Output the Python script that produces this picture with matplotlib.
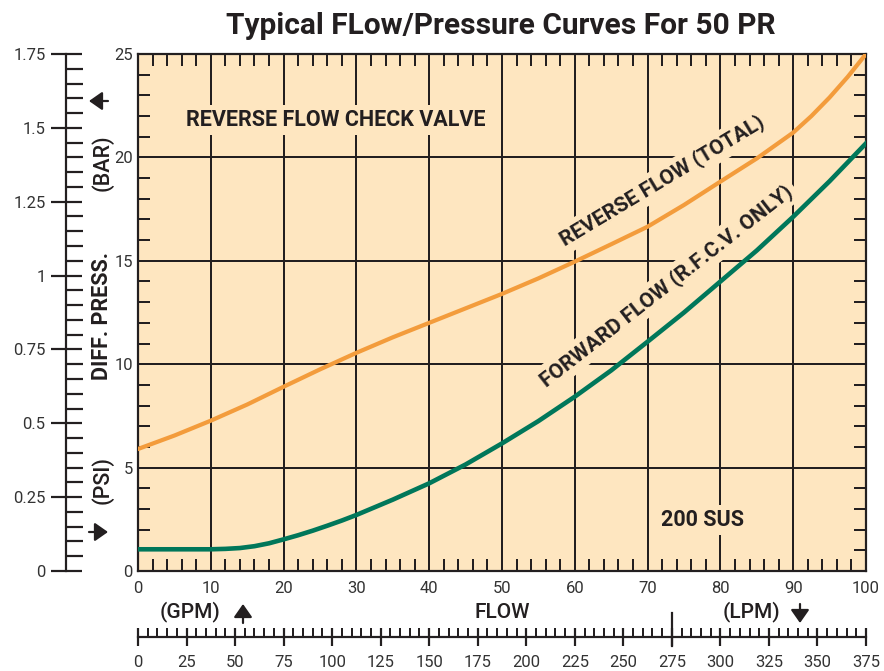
import matplotlib
matplotlib.use('Agg')
import matplotlib.pyplot as plt
from matplotlib.ticker import MultipleLocator, FixedLocator

plt.rcParams['font.family'] = ['Roboto', 'DejaVu Sans']

# ---------------- data ----------------
gpm_rev = [0, 5, 10, 15, 20, 25, 30, 35, 40, 45, 50, 55, 60, 65, 70, 75, 80, 85,
           90, 92.5, 95, 97.5, 100]
reverse_psi = [5.9, 6.55, 7.27, 8.05, 8.91, 9.75, 10.55, 11.3, 12.0, 12.7, 13.4,
               14.15, 14.96, 15.8, 16.65, 17.7, 18.83, 19.95, 21.2, 22.0, 22.9, 23.9, 25.0]
gpm_fwd = [0, 5, 10, 12, 14, 16, 18, 20, 22, 24, 26, 28, 30, 35, 40, 45, 50, 55,
           60, 65, 70, 75, 80, 85, 90, 95, 100]
forward_psi = [1.05, 1.05, 1.05, 1.07, 1.11, 1.2, 1.34, 1.53, 1.73, 1.95, 2.19, 2.44,
               2.71, 3.45, 4.24, 5.15, 6.17, 7.25, 8.43, 9.7, 11.09, 12.5, 14.0, 15.5,
               17.13, 18.85, 20.68]

gpm_ticks = [0, 10, 20, 30, 40, 50, 60, 70, 80, 90, 100]
psi_ticks = [0, 5, 10, 15, 20, 25]
bar_ticks = [0, 0.25, 0.5, 0.75, 1.0, 1.25, 1.5, 1.75]
bar_labels = ['0', '0.25', '0.5', '0.75', '1', '1.25', '1.5', '1.75']
lpm_ticks = [0, 25, 50, 75, 100, 125, 150, 175, 200, 225, 250, 275, 300, 325, 350, 375]
lpm_mark = 275

title = 'Typical FLow/Pressure Curves For 50 PR'

# ---------------- style ----------------
BG = '#FEE6C0'
INK = '#231F20'
ORANGE = '#F39C3C'
GREEN = '#00775A'

W, H = 884, 671
fig = plt.figure(figsize=(W / 100, H / 100), dpi=100)


def fx(px):
    return px / W


def fy(py):
    return 1 - py / H


PT = 72 / 100  # points per pixel

# ---------------- main axes ----------------
ax = fig.add_axes([fx(138), fy(571), fx(866) - fx(138), fy(54) - fy(571)])
ax.set_facecolor(BG)
ax.set_xlim(0, 100)
ax.set_ylim(0, 25)
ax.set_axisbelow(True)
ax.xaxis.set_major_locator(FixedLocator(gpm_ticks))
ax.yaxis.set_major_locator(FixedLocator(psi_ticks))
ax.xaxis.set_minor_locator(MultipleLocator(2))
ax.yaxis.set_minor_locator(MultipleLocator(1))
ax.grid(which='major', color=INK, lw=2 * PT)
ax.tick_params(which='minor', direction='in', length=12 * PT, width=2 * PT,
               color=INK, top=True, right=True, bottom=True, left=True)
ax.tick_params(which='major', length=0, labelsize=12, labelcolor='#333333')
ax.tick_params(axis='x', which='major', pad=10 * PT)
ax.tick_params(axis='y', which='major', pad=5 * PT)
for s in ax.spines.values():
    s.set_color(INK)
    s.set_linewidth(2.2 * PT)

ax.plot(gpm_rev, reverse_psi, color=ORANGE, lw=4.2 * PT, zorder=3,
        solid_joinstyle='round')
ax.plot(gpm_fwd, forward_psi, color=GREEN, lw=4.6 * PT, zorder=3,
        solid_joinstyle='round')

box = dict(boxstyle='square,pad=0.2', fc=BG, ec='none')
ax.text(27.2, 21.8, 'REVERSE FLOW CHECK VALVE', ha='center', va='center',
        fontsize=15.5, fontweight='bold', color=INK, bbox=box, zorder=4)
ax.text(77.6, 2.47, '200 SUS', ha='center', va='center',
        fontsize=15.5, fontweight='bold', color=INK, bbox=box, zorder=4)
ax.text(72.0, 18.86, 'REVERSE FLOW (TOTAL)', ha='center', va='center',
        rotation=31, rotation_mode='anchor', fontsize=15, fontweight='bold',
        color=INK, bbox=box, zorder=4)
ax.text(72.6, 13.8, 'FORWARD FLOW (R.F.C.V. ONLY)', ha='center', va='center',
        rotation=38, rotation_mode='anchor', fontsize=15, fontweight='bold',
        color=INK, bbox=box, zorder=4)

# ---------------- BAR axis ----------------
axb = fig.add_axes([fx(66), fy(571), 0.01, fy(54) - fy(571)])
axb.patch.set_visible(False)
axb.set_ylim(0, 1.75)
for k in ('top', 'right', 'bottom'):
    axb.spines[k].set_visible(False)
axb.spines['left'].set_linewidth(2.2 * PT)
axb.spines['left'].set_color(INK)
axb.set_xticks([])
axb.yaxis.set_major_locator(FixedLocator(bar_ticks))
axb.set_yticklabels(bar_labels)
axb.yaxis.set_minor_locator(MultipleLocator(0.05))
axb.tick_params(axis='y', which='major', direction='inout', length=31 * PT,
                width=2.2 * PT, color=INK, pad=5 * PT, labelsize=12, labelcolor='#333333')
axb.tick_params(axis='y', which='minor', direction='in', length=17 * PT,
                width=2.2 * PT, color=INK)

# ---------------- LPM axis ----------------
axl = fig.add_axes([fx(138), fy(637), fx(866) - fx(138), fy(613) - fy(637)])
axl.patch.set_visible(False)
axl.set_xlim(0, 375)
for k in ('top', 'right', 'left'):
    axl.spines[k].set_visible(False)
axl.spines['bottom'].set_linewidth(2.2 * PT)
axl.spines['bottom'].set_color(INK)
axl.set_yticks([])
axl.xaxis.set_major_locator(FixedLocator(lpm_ticks))
axl.xaxis.set_minor_locator(MultipleLocator(5))
axl.tick_params(axis='x', which='major', direction='inout', length=18 * PT,
                width=2.2 * PT, color=INK, pad=9 * PT, labelsize=12, labelcolor='#333333')
axl.tick_params(axis='x', which='minor', direction='in', length=9 * PT,
                width=2 * PT, color=INK)
axl.axvline(lpm_mark, ymin=-9 / 24, ymax=1, color=INK, lw=2.2 * PT, clip_on=False)

# ---------------- labels ----------------
fig.text(fx(501), fy(34), title, ha='center', va='baseline', fontsize=21.5,
         fontweight='bold', color=INK)
fig.text(fx(102), fy(316), 'DIFF. PRESS.', rotation=90, ha='center', va='center',
         fontsize=15.5, fontweight='bold', color=INK)
fig.text(fx(102), fy(163), '(BAR)', rotation=90, ha='center', va='center',
         fontsize=15.5, fontweight='medium', color=INK)
fig.text(fx(102), fy(480), '(PSI)', rotation=90, ha='center', va='center',
         fontsize=15.5, fontweight='medium', color=INK)
fig.text(fx(190), fy(612), '(GPM)', ha='center', va='center',
         fontsize=15, fontweight='medium', color=INK)
fig.text(fx(502), fy(612), 'FLOW', ha='center', va='center',
         fontsize=15, fontweight='medium', color=INK)
fig.text(fx(752), fy(612), '(LPM)', ha='center', va='center',
         fontsize=15, fontweight='medium', color=INK)

arrow = dict(arrowstyle='-|>,head_length=0.5,head_width=0.35', color=INK, lw=2.2 * PT,
             mutation_scale=16, shrinkA=0, shrinkB=0)
for (x0, y0, x1, y1) in [(108, 101, 89, 101), (89, 532, 108, 532),
                         (243, 623, 243, 604), (800, 604, 800, 623)]:
    ax.annotate('', xy=(fx(x1), fy(y1)), xytext=(fx(x0), fy(y0)),
                xycoords='figure fraction', textcoords='figure fraction',
                arrowprops=arrow, annotation_clip=False)

fig.savefig('out.png', dpi=100)
